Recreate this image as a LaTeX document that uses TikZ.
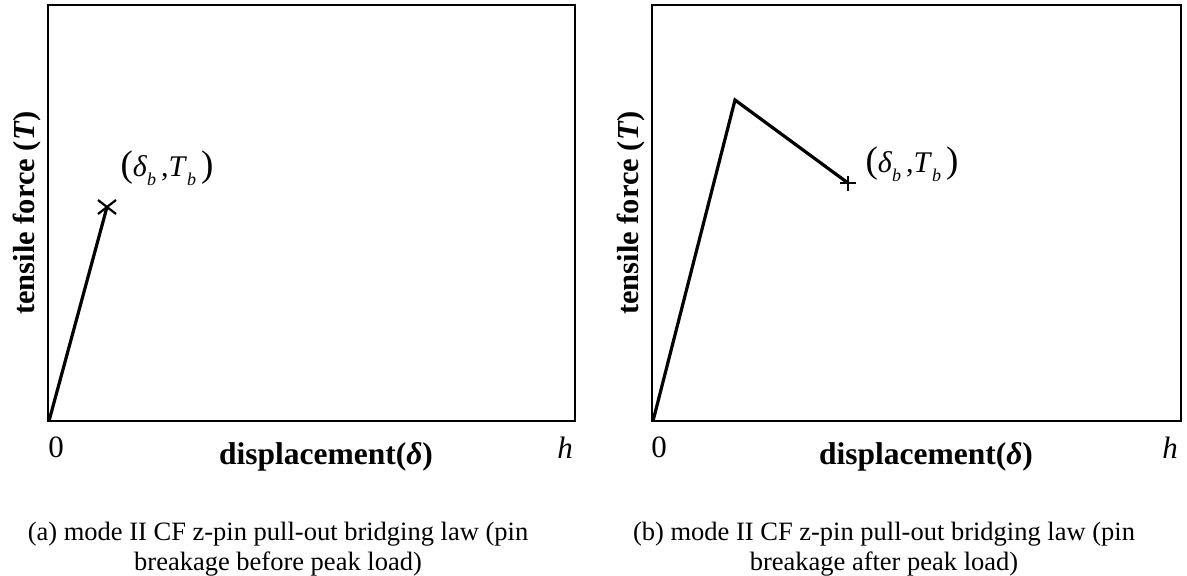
\documentclass[tikz,border=0pt]{standalone}
\usepackage{fontspec}
\setmainfont{Liberation Serif}
\tikzset{
  frame/.style={draw=black, line width=1.2pt},
  law/.style={draw=black, line width=3.2pt, line join=miter},
  mk/.style={draw=black, line width=2.2pt},
  axlab/.style={font=\fontsize{31.5}{34}\selectfont\bfseries, inner sep=0pt},
  ylab/.style={font=\fontsize{30.5}{34}\selectfont\bfseries, inner sep=0pt, rotate=90},
  ticklab/.style={font=\fontsize{31}{32}\selectfont, inner sep=0pt},
  captext/.style={font=\fontsize{26.5}{30.5}\selectfont, align=center, inner sep=0pt},
  ptlab/.style={font=\fontsize{30}{32}\selectfont, inner sep=0pt}
}
\newcommand{\dblabel}{{\fontsize{37}{38}\selectfont(}\textit{δ}\raisebox{-0.3em}{\fontsize{18}{19}\selectfont\textit{b}}\,,\textit{T}\raisebox{-0.3em}{\fontsize{18}{19}\selectfont\textit{b}}\,{\fontsize{37}{38}\selectfont)}}
\begin{document}
\begin{tikzpicture}[x=1pt,y=-1pt]
\useasboundingbox (0,0) rectangle (1187,576);
% ---------- panel (a) ----------
\coordinate (a0) at (49,421);
\coordinate (aB) at (107,207);
\draw[frame] (48,5) rectangle (575,421);
\draw[law] (a0) -- (aB);
\draw[mk] ([shift={(-9,-7)}]aB) -- ([shift={(9,7)}]aB);
\draw[mk] ([shift={(-9,7)}]aB) -- ([shift={(9,-7)}]aB);
\node[ptlab] (alab) at (167,168) {\dblabel};
\node[ticklab] (azero) at (56,447) {0};
\node[ticklab] (ah) at (565,448) {\textit{h}};
\node[axlab] (ax) at (326,457) {displacement(\textit{δ})};
\node[ylab] (ay) at (27,213) {tensile force (\textit{T})};
\node[captext] (acap) at (278,549) {(a) mode II CF z-pin pull-out bridging law (pin\\breakage before peak load)};
% ---------- panel (b) ----------
\coordinate (b0) at (653,421);
\coordinate (bP) at (735,100);
\coordinate (bB) at (848,183);
\draw[frame] (652,5) rectangle (1181,421);
\draw[law] (b0) -- (bP) -- (bB);
\draw[mk] ([shift={(-8,0)}]bB) -- ([shift={(8,0)}]bB);
\draw[mk] ([shift={(0,-7)}]bB) -- ([shift={(0,8)}]bB);
\node[ptlab] (blab) at (912,164) {\dblabel};
\node[ticklab] (bzero) at (659,447) {0};
\node[ticklab] (bh) at (1170,448) {\textit{h}};
\node[axlab] (bx) at (926,457) {displacement(\textit{δ})};
\node[ylab] (by) at (631,213) {tensile force (\textit{T})};
\node[captext] (bcap) at (884,549) {(b) mode II CF z-pin pull-out bridging law (pin\\breakage after peak load)};
\end{tikzpicture}
\end{document}
